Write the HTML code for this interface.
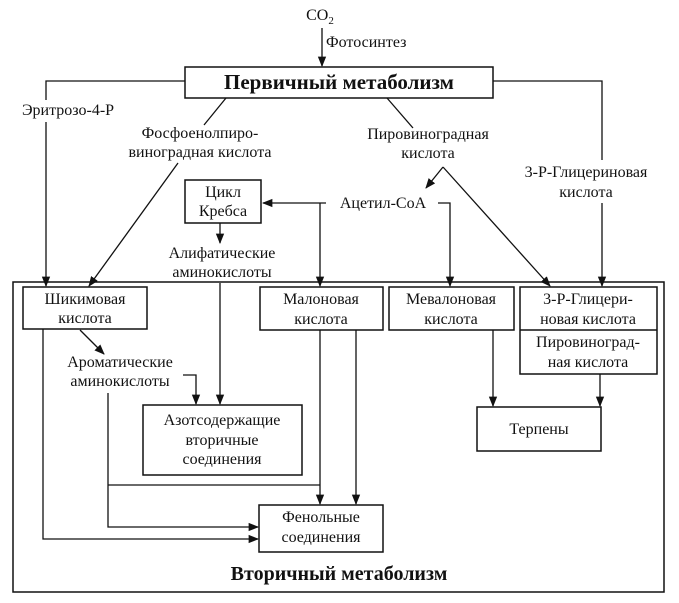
<!DOCTYPE html>
<html><head><meta charset="utf-8"><style>
html,body{margin:0;padding:0;background:#fff;}
svg{display:block;}
text{font-family:"Liberation Serif",serif;font-size:16px;fill:#111;text-anchor:middle;}
.b{font-weight:bold;}
</style></head><body>
<svg width="679" height="603" viewBox="0 0 679 603" xmlns="http://www.w3.org/2000/svg">
<defs><marker id="a" viewBox="0 0 10 10" refX="9" refY="5" markerWidth="8" markerHeight="8" orient="auto"><path d="M0,1 L10,5 L0,9 z" fill="#111"/></marker></defs>
<g fill="none" stroke="#111" stroke-width="1.5">
<rect x="13" y="282" width="651" height="310"/>
<rect x="185" y="67" width="308" height="31"/>
<rect x="185" y="180" width="76" height="43"/>
<rect x="23" y="287" width="124" height="42"/>
<rect x="260" y="287" width="123" height="43"/>
<rect x="389" y="287" width="125" height="43"/>
<rect x="520" y="287" width="137" height="87"/>
<line x1="520" y1="330" x2="657" y2="330"/>
<rect x="143" y="405" width="159" height="70"/>
<rect x="259" y="505" width="124" height="47"/>
<rect x="477" y="407" width="124" height="44"/>
</g>
<g fill="none" stroke="#111" stroke-width="1.3">
<line x1="322" y1="28" x2="322" y2="66" marker-end="url(#a)"/>
<polyline points="185,81 46,81 46,100"/>
<line x1="46" y1="122" x2="46" y2="286" marker-end="url(#a)"/>
<polyline points="493,81 602,81 602,160"/>
<line x1="602" y1="203" x2="602" y2="286" marker-end="url(#a)"/>
<line x1="226" y1="98" x2="204" y2="125"/>
<line x1="178" y1="163" x2="89" y2="286" marker-end="url(#a)"/>
<line x1="387" y1="98" x2="413" y2="128"/>
<line x1="443" y1="167" x2="426" y2="188" marker-end="url(#a)"/>
<line x1="443" y1="167" x2="550" y2="286" marker-end="url(#a)"/>
<line x1="326" y1="203" x2="263" y2="203" marker-end="url(#a)"/>
<line x1="320" y1="203" x2="320" y2="286" marker-end="url(#a)"/>
<polyline points="438,203 450,203 450,286" marker-end="url(#a)"/>
<line x1="220" y1="223" x2="220" y2="243" marker-end="url(#a)"/>
<line x1="220" y1="283" x2="220" y2="404" marker-end="url(#a)"/>
<line x1="80" y1="330" x2="104" y2="354" marker-end="url(#a)"/>
<polyline points="183,375 196,375 196,404" marker-end="url(#a)"/>
<polyline points="43,329 43,539 258,539" marker-end="url(#a)"/>
<polyline points="108,393 108,527 258,527" marker-end="url(#a)"/>
<line x1="108" y1="485" x2="320" y2="485"/>
<line x1="320" y1="330" x2="320" y2="504" marker-end="url(#a)"/>
<line x1="356" y1="330" x2="356" y2="504" marker-end="url(#a)"/>
<line x1="493" y1="330" x2="493" y2="406" marker-end="url(#a)"/>
<line x1="600" y1="374" x2="600" y2="406" marker-end="url(#a)"/>
</g>
<text x="320" y="20">CO<tspan font-size="11" dy="4">2</tspan></text>
<text x="326" y="47" style="text-anchor:start">Фотосинтез</text>
<text x="339" y="89" class="b" style="font-size:21px">Первичный метаболизм</text>
<text x="68" y="115">Эритрозо-4-Р</text>
<text x="200" y="138">Фосфоенолпиро-</text>
<text x="200" y="157">виноградная кислота</text>
<text x="428" y="139">Пировиноградная</text>
<text x="428" y="158">кислота</text>
<text x="586" y="177">3-Р-Глицериновая</text>
<text x="586" y="197">кислота</text>
<text x="223" y="197">Цикл</text>
<text x="223" y="216">Кребса</text>
<text x="383" y="208">Ацетил-СоА</text>
<text x="222" y="258">Алифатические</text>
<text x="222" y="277">аминокислоты</text>
<text x="85" y="304">Шикимовая</text>
<text x="85" y="323">кислота</text>
<text x="321" y="304">Малоновая</text>
<text x="321" y="324">кислота</text>
<text x="451" y="304">Мевалоновая</text>
<text x="451" y="324">кислота</text>
<text x="588" y="304">3-Р-Глицери-</text>
<text x="588" y="324">новая кислота</text>
<text x="588" y="347">Пировиноград-</text>
<text x="588" y="367">ная кислота</text>
<text x="120" y="367">Ароматические</text>
<text x="120" y="386">аминокислоты</text>
<text x="222" y="425">Азотсодержащие</text>
<text x="222" y="445">вторичные</text>
<text x="222" y="464">соединения</text>
<text x="321" y="522">Фенольные</text>
<text x="321" y="542">соединения</text>
<text x="539" y="434">Терпены</text>
<text x="339" y="580" class="b" style="font-size:20px">Вторичный метаболизм</text>
</svg>
</body></html>
